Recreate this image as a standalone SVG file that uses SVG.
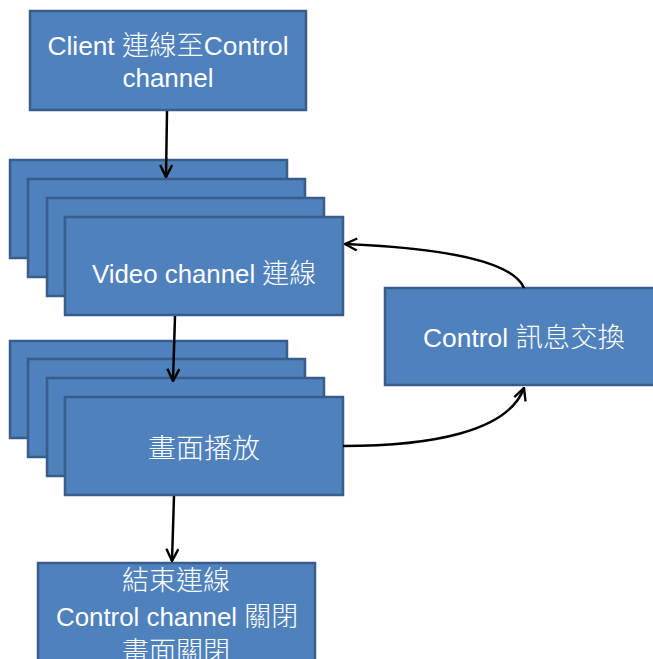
<svg xmlns="http://www.w3.org/2000/svg" width="653" height="659" viewBox="0 0 653 659">
  <defs>
    <style>
      .box { fill: #4f81bd; stroke: #385d8a; stroke-width: 2.5; }
      .lbl { fill: #ffffff; font-family: "Liberation Sans", "Noto Sans CJK TC", sans-serif; font-size: 26px; text-anchor: middle; }
      .cjk { font-family: "Noto Sans CJK TC", sans-serif; font-size: 27px; font-weight: 300; }
      .link { fill: none; stroke: #000000; stroke-width: 2.5; }
    </style>
    <marker id="arrow" viewBox="0 0 14 14" refX="13" refY="7" markerWidth="14" markerHeight="14" markerUnits="userSpaceOnUse" orient="auto">
      <path d="M1,1 L13,7 L1,13" fill="none" stroke="#000000" stroke-width="2.4"/>
    </marker>
  </defs>

  <rect width="653" height="659" fill="#ffffff"/>

  <g id="client-connect">
    <rect class="box" x="30" y="11" width="276" height="99"/>
    <text class="lbl" x="168" y="55" textLength="241" lengthAdjust="spacingAndGlyphs">Client <tspan class="cjk">連線至</tspan>Control</text>
    <text class="lbl" x="168" y="87">channel</text>
  </g>

  <g id="video-channel">
    <rect class="box" x="10" y="160" width="277" height="98"/>
    <rect class="box" x="28" y="179" width="277" height="98"/>
    <rect class="box" x="47" y="198" width="277" height="98"/>
    <rect class="box" x="65" y="217" width="278" height="98"/>
    <text class="lbl" x="204" y="283" textLength="224" lengthAdjust="spacingAndGlyphs">Video channel <tspan class="cjk">連線</tspan></text>
  </g>

  <g id="playback">
    <rect class="box" x="10" y="341" width="277" height="97"/>
    <rect class="box" x="28" y="359" width="277" height="98"/>
    <rect class="box" x="47" y="378" width="277" height="98"/>
    <rect class="box" x="65" y="397" width="278" height="98"/>
    <text class="lbl cjk" x="204" y="458" font-size="28" textLength="112" lengthAdjust="spacingAndGlyphs">畫面播放</text>
  </g>

  <g id="control-message">
    <rect class="box" x="385" y="288" width="280" height="97"/>
    <text class="lbl" x="524" y="347" textLength="202" lengthAdjust="spacingAndGlyphs">Control <tspan class="cjk">訊息交換</tspan></text>
  </g>

  <g id="close-connection">
    <rect class="box" x="38" y="563" width="277" height="110"/>
    <text class="lbl cjk" x="176" y="590" font-size="28">結束連線</text>
    <text class="lbl" x="177" y="626" textLength="242" lengthAdjust="spacingAndGlyphs">Control channel <tspan class="cjk">關閉</tspan></text>
    <text class="lbl cjk" x="176" y="661" font-size="27">畫面關閉</text>
  </g>

  <g id="connectors">
    <path class="link" d="M167,111 L166,177" marker-end="url(#arrow)"/>
    <path class="link" d="M175,316 L173,381" marker-end="url(#arrow)"/>
    <path class="link" d="M174,496 L172,561" marker-end="url(#arrow)"/>
    <path class="link" d="M524,288 C512,260 440,248 345,244" marker-end="url(#arrow)"/>
    <path class="link" d="M343,446 C430,446 508,432 524,388" marker-end="url(#arrow)"/>
  </g>
</svg>
